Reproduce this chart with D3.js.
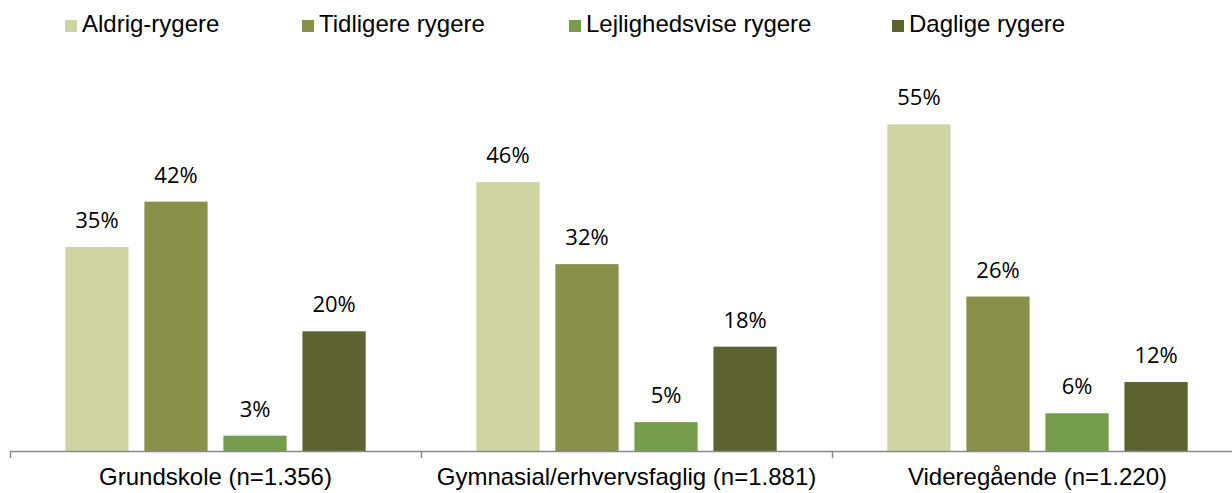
<!DOCTYPE html>
<html>
<head>
<meta charset="utf-8">
<script src="https://cdn.jsdelivr.net/npm/d3@7"></script>
<style>
  body { margin: 0; background: #fff; }
  #chart svg { display: block; }
</style>
</head>
<body>
<div id="chart"></div>
<script>
// chart data
const categories = ['Grundskole (n=1.356)', 'Gymnasial/erhvervsfaglig (n=1.881)', 'Videregående (n=1.220)'];
const series = ['Aldrig-rygere', 'Tidligere rygere', 'Lejlighedsvise rygere', 'Daglige rygere'];
const colors = ['#CED4A2', '#89904A', '#769D4C', '#5C6330'];

// values per category, in series order (percent)
const grundskole = [34.6, 42.3, 2.6, 20.3];
const gymnasial = [45.6, 31.7, 4.9, 17.7];
const videregaaende = [55.4, 26.2, 6.4, 11.7];
const values = [grundskole, gymnasial, videregaaende];

const W = 1232, H = 493;
const baseY = 451;
const legendX = [65, 302, 569, 892];

const svg = d3.select('#chart')
  .append('svg')
  .attr('width', W)
  .attr('height', H);

// scales
const x0 = d3.scaleBand()
  .domain(categories)
  .range([10, 1243])
  .padding(0);

const x1 = d3.scaleBand()
  .domain(series)
  .range([0, x0.bandwidth()])
  .paddingInner(0.2)
  .paddingOuter(0.7);

const y = d3.scaleLinear()
  .domain([0, 60])
  .range([baseY, baseY - 60 * 5.895]);

const color = d3.scaleOrdinal().domain(series).range(colors);

// bars
const groups = svg.selectAll('g.group')
  .data(categories)
  .join('g')
  .attr('class', 'group')
  .attr('transform', d => `translate(${x0(d)},0)`);

groups.selectAll('rect')
  .data((d, i) => series.map((s, j) => ({ s, v: values[i][j] })))
  .join('rect')
  .attr('x', d => x1(d.s))
  .attr('y', d => y(d.v))
  .attr('width', x1.bandwidth())
  .attr('height', d => baseY - y(d.v))
  .attr('fill', d => color(d.s));

// value labels
groups.selectAll('text.val')
  .data((d, i) => series.map((s, j) => ({ s, v: values[i][j] })))
  .join('text')
  .attr('class', 'val')
  .attr('x', d => x1(d.s) + x1.bandwidth() / 2)
  .attr('y', d => y(d.v) - 19)
  .attr('text-anchor', 'middle')
  .style('font-family', '"Open Sans", sans-serif')
  .style('font-size', '22px')
  .style('fill', '#000')
  .text(d => Math.round(d.v) + '%');

// x axis: line with ticks at group boundaries
const axis = svg.append('g').attr('class', 'x-axis');

axis.append('line')
  .attr('x1', 10)
  .attr('x2', W)
  .attr('y1', baseY + 0.5)
  .attr('y2', baseY + 0.5)
  .attr('stroke', '#898989')
  .attr('stroke-width', 1.5);

const tickPos = categories.map(c => x0(c)).concat([x0.range()[1]]);
axis.selectAll('line.tick')
  .data(tickPos)
  .join('line')
  .attr('class', 'tick')
  .attr('x1', d => d + 0.5)
  .attr('x2', d => d + 0.5)
  .attr('y1', baseY)
  .attr('y2', baseY + 7)
  .attr('stroke', '#898989')
  .attr('stroke-width', 1.5);

axis.selectAll('text')
  .data(categories)
  .join('text')
  .attr('x', d => x0(d) + x0.bandwidth() / 2)
  .attr('y', 485)
  .attr('text-anchor', 'middle')
  .style('font-family', '"Liberation Sans", Arial, sans-serif')
  .style('font-size', '24px')
  .style('fill', '#000')
  .text(d => d);

// legend
const legend = svg.append('g').attr('class', 'legend');
const items = legend.selectAll('g')
  .data(series)
  .join('g')
  .attr('transform', (d, i) => `translate(${legendX[i]},0)`);

items.append('rect')
  .attr('x', 0)
  .attr('y', 20)
  .attr('width', 12)
  .attr('height', 12)
  .attr('fill', d => color(d));

items.append('text')
  .attr('x', 17)
  .attr('y', 32)
  .style('font-family', '"Liberation Sans", Arial, sans-serif')
  .style('font-size', '24px')
  .style('fill', '#000')
  .text(d => d);
</script>
</body>
</html>
